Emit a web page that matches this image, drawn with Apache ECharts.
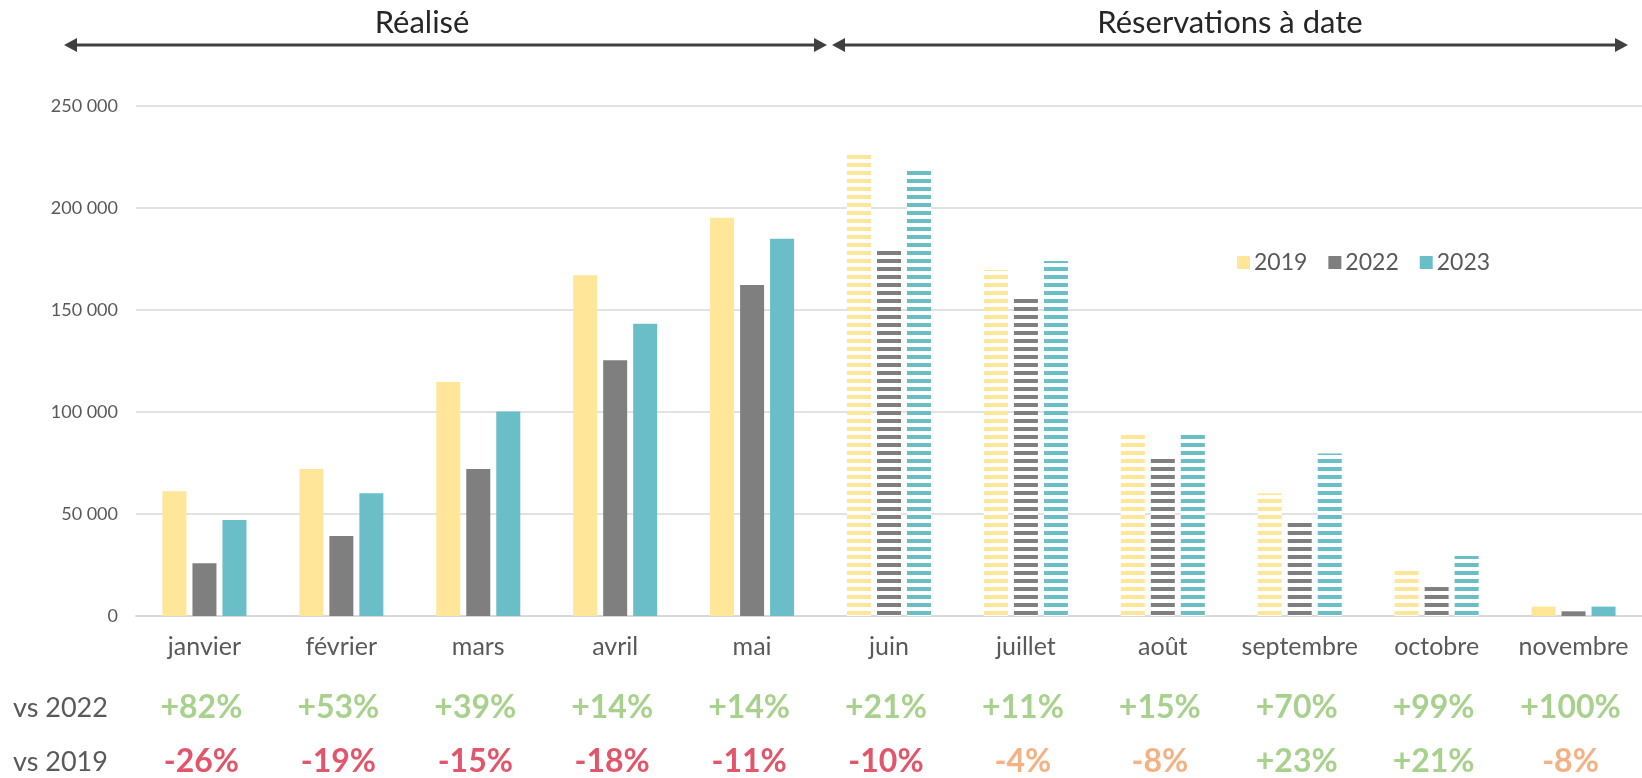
<!DOCTYPE html>
<html>
<head>
<meta charset="utf-8">
<script src="https://cdn.jsdelivr.net/npm/echarts@6/dist/echarts.min.js"></script>
<style>
  body { margin: 0; background: #fff; }
  #main { width: 1642px; height: 778px; }
</style>
</head>
<body>
<div id="main"></div>
<script>
const months = ["janvier", "février", "mars", "avril", "mai", "juin", "juillet", "août", "septembre", "octobre", "novembre"];
const v2019 = [61100, 72000, 114700, 167000, 195200, 226000, 169600, 88900, 60200, 22000, 4600];
const v2022 = [25800, 39200, 72000, 125400, 162300, 178900, 155400, 77600, 46300, 14200, 2300];
const v2023 = [47000, 60200, 100200, 143300, 184900, 218100, 174000, 88900, 79700, 29400, 4600];
// bookings to date (hatched bars)
const hatched = [false, false, false, false, false, true, true, true, true, true, false];
const vs2022 = ["+82%", "+53%", "+39%", "+14%", "+14%", "+21%", "+11%", "+15%", "+70%", "+99%", "+100%"];
const vs2019 = ["-26%", "-19%", "-15%", "-18%", "-11%", "-10%", "-4%", "-8%", "+23%", "+21%", "-8%"];

const FONT = "Lato, 'DejaVu Sans', sans-serif";
const colors = { "2019": "#FFE699", "2022": "#7F7F7F", "2023": "#69BEC7" };

// horizontal stripes like the excel pattern fill
const stripes = (color) => {
  const c = document.createElement("canvas");
  c.width = 8;
  c.height = 8;
  const ctx = c.getContext("2d");
  ctx.fillStyle = "#fff";
  ctx.fillRect(0, 0, 8, 8);
  ctx.fillStyle = color;
  ctx.fillRect(0, 3, 8, 4);
  return { image: c, repeat: "repeat" };
};

const makeSeries = (name, values) => ({
  name: name,
  type: "bar",
  barWidth: 24,
  barGap: "25%",
  itemStyle: { color: colors[name] },
  data: values.map((v, i) => (hatched[i] ? { value: v, itemStyle: { color: stripes(colors[name]) } } : v)),
});

const pctColor = (s) => {
  const n = parseFloat(s);
  if (n >= 0) return "#A9D18E";
  if (n <= -10) return "#E2566B";
  return "#F4B183";
};

var myChart = echarts.init(document.getElementById("main"));

var option = {
  animation: false,
  textStyle: { fontFamily: FONT },
  grid: { left: 136, right: 0, top: 106, bottom: 162 },
  legend: {
    left: 1232,
    top: 246,
    icon: "rect",
    itemWidth: 13,
    itemHeight: 13,
    itemGap: 21,
    textStyle: { fontSize: 23, color: "#595959", fontFamily: FONT, padding: [0, 0, 0, -1] },
    data: ["2019", "2022", "2023"],
  },
  xAxis: {
    type: "category",
    data: months,
    axisLine: { lineStyle: { color: "#D9D9D9", width: 2 } },
    axisTick: { show: false },
    axisLabel: { interval: 0, hideOverlap: false, fontSize: 25, color: "#595959", margin: 18, fontFamily: FONT },
  },
  yAxis: {
    type: "value",
    min: 0,
    max: 250000,
    interval: 50000,
    axisLine: { show: false },
    axisTick: { show: false },
    splitLine: { lineStyle: { color: "#D9D9D9", width: 1.5 } },
    axisLabel: {
      fontSize: 18,
      color: "#595959",
      margin: 18,
      fontFamily: FONT,
      formatter: (v) => String(v).replace(/\B(?=(\d{3})+(?!\d))/g, " "),
    },
  },
  series: [makeSeries("2019", v2019), makeSeries("2022", v2022), makeSeries("2023", v2023)],
};

myChart.setOption(option);

// arrows and titles above the plot
const arrow = (x1, x2, y) => [
  { type: "line", shape: { x1: x1 + 10, y1: y, x2: x2 - 10, y2: y }, style: { stroke: "#404040", lineWidth: 3 } },
  { type: "polygon", shape: { points: [[x1, y], [x1 + 13, y - 7], [x1 + 13, y + 7]] }, style: { fill: "#404040" } },
  { type: "polygon", shape: { points: [[x2, y], [x2 - 13, y - 7], [x2 - 13, y + 7]] }, style: { fill: "#404040" } },
];
const title = (text, x) => ({
  type: "text",
  x: x,
  y: 23,
  style: { text: text, fontSize: 31, fill: "#262626", fontFamily: FONT, align: "center", verticalAlign: "middle" },
});

var graphics = [].concat(arrow(64, 827, 45), arrow(832, 1628, 45), [title("Réalisé", 422), title("Réservations à date", 1230)]);

// comparison rows under the month labels
graphics.push(
  { type: "text", x: 13, y: 708, style: { text: "vs 2022", fontSize: 27, fill: "#595959", fontFamily: FONT, verticalAlign: "middle" } },
  { type: "text", x: 13, y: 762, style: { text: "vs 2019", fontSize: 27, fill: "#595959", fontFamily: FONT, verticalAlign: "middle" } }
);
months.forEach((m, i) => {
  const x = myChart.convertToPixel({ xAxisIndex: 0 }, m);
  [[vs2022[i], 708], [vs2019[i], 762]].forEach(([t, y]) => {
    graphics.push({
      type: "text",
      x: x - 3,
      y: y,
      style: { text: t, fontSize: 32, fontWeight: "bold", fill: pctColor(t), fontFamily: FONT, align: "center", verticalAlign: "middle" },
    });
  });
});

myChart.setOption({ graphic: graphics });
</script>
</body>
</html>
